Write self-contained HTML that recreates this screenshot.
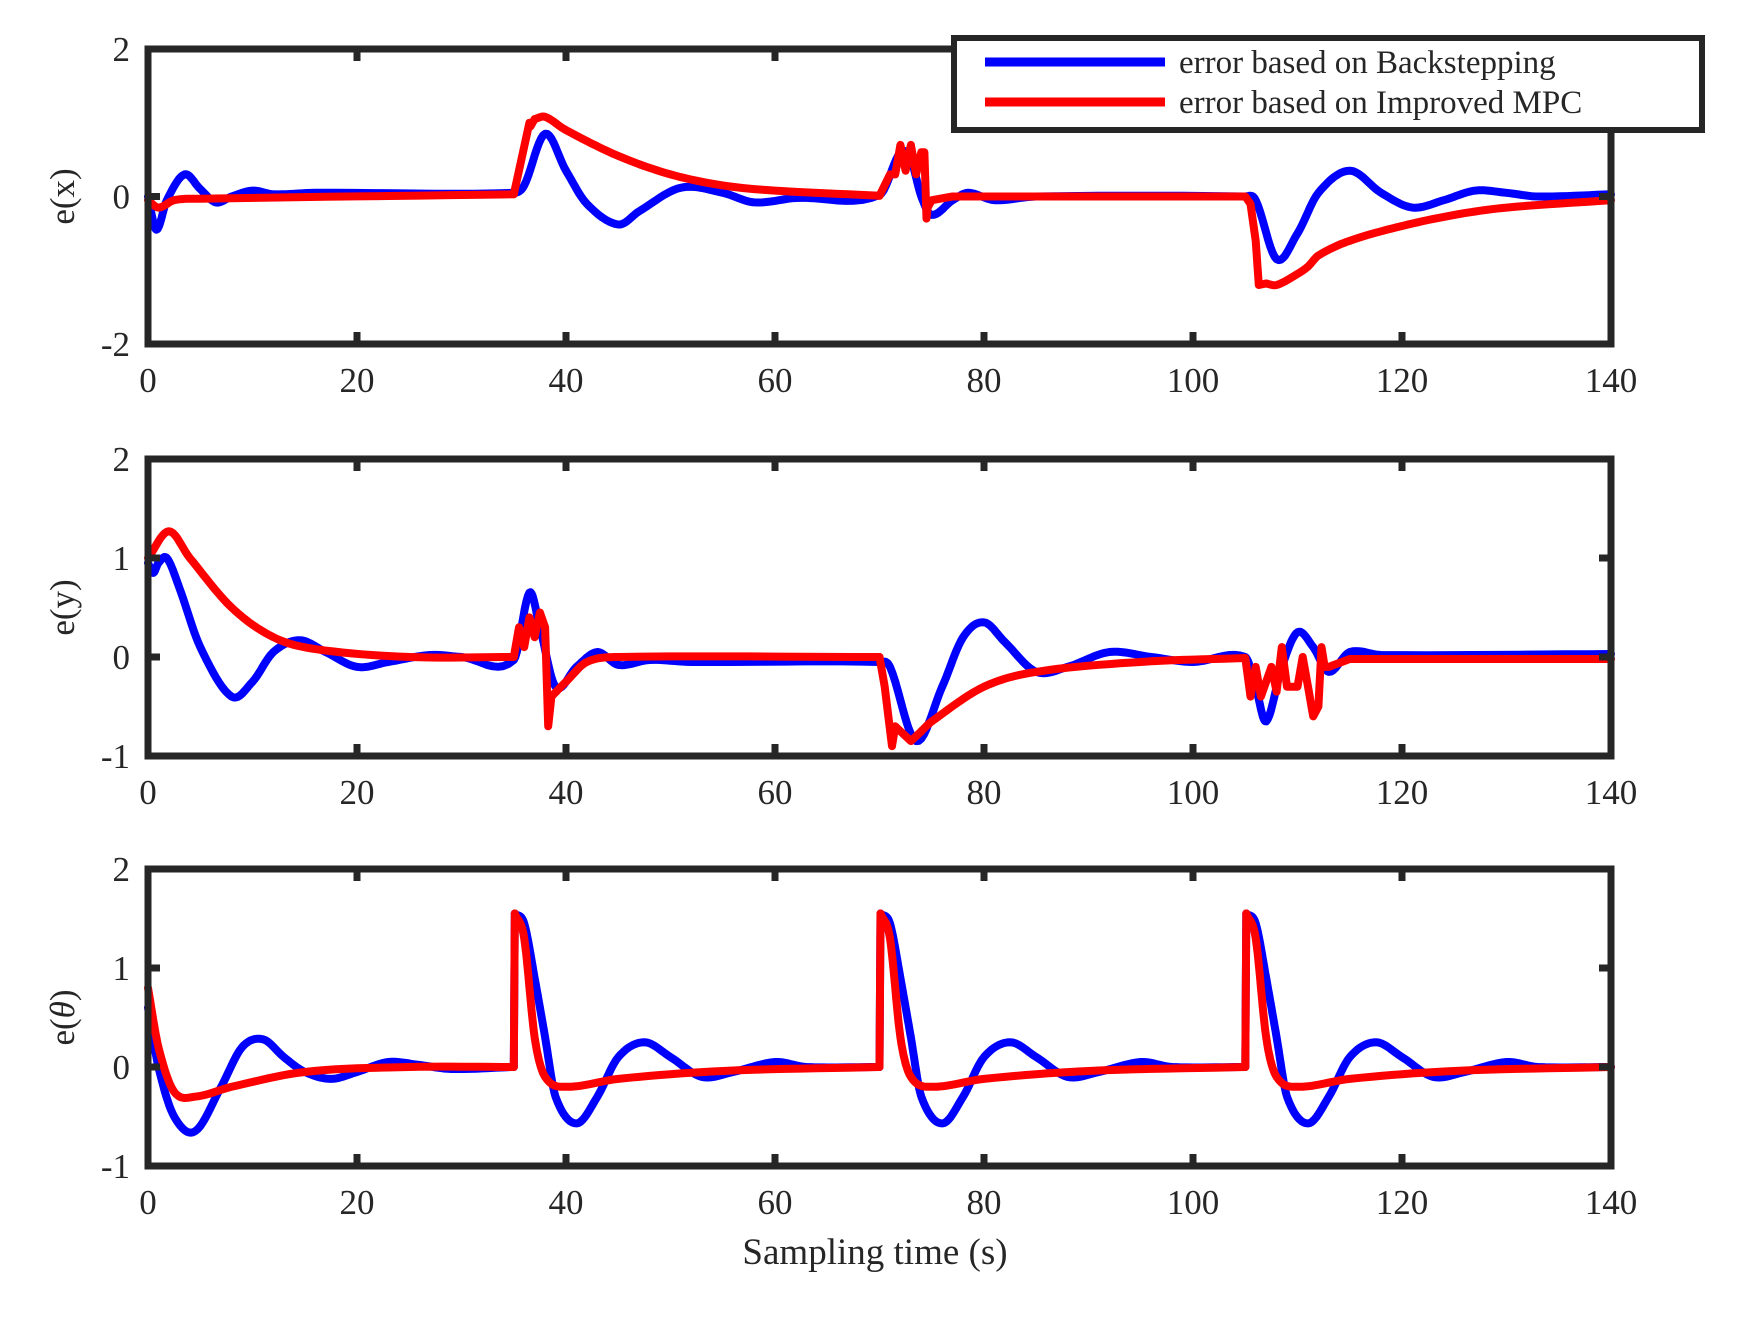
<!DOCTYPE html>
<html><head><meta charset="utf-8"><style>
body{margin:0;background:#fff;}
svg text{font-family:"Liberation Serif",serif;fill:#262626;}
</style></head><body>
<svg id="s" width="1743" height="1314" xmlns="http://www.w3.org/2000/svg"></svg>
<script>
const S=document.getElementById('s');
const X0=148,X1=1611;
const xs=t=>X0+(X1-X0)*t/140;
function el(n,a,txt){const e=document.createElementNS('http://www.w3.org/2000/svg',n);for(const k in a)e.setAttribute(k,a[k]);if(txt!==undefined)e.textContent=txt;S.appendChild(e);return e;}
function path(pts,ys){return pts.map((p,i)=>(i?'L':'M')+xs(p[0]).toFixed(1)+' '+ys(p[1]).toFixed(1)).join('');}
// hermite in x
function smooth(pts){const n=pts.length;const m=[];for(let i=0;i<n;i++){const a=pts[Math.max(0,i-1)],b=pts[Math.min(n-1,i+1)];m.push((b[1]-a[1])/(b[0]-a[0]));}
 const out=[];for(let i=0;i<n-1;i++){const x0=pts[i][0],x1=pts[i+1][0],y0=pts[i][1],y1=pts[i+1][1],h=x1-x0;for(let k=0;k<10;k++){const t=k/10,t2=t*t,t3=t2*t;const y=(2*t3-3*t2+1)*y0+(t3-2*t2+t)*h*m[i]+(-2*t3+3*t2)*y1+(t3-t2)*h*m[i+1];out.push([x0+h*t,y]);}}out.push(pts[n-1]);return out;}
function panel(top,bot,ymin,ymax,yt,label,series){
  const ys=v=>bot-(v-ymin)/(ymax-ymin)*(bot-top);
  series.forEach(s=>{s.segs.forEach(seg=>{el('path',{d:path(seg.lin?seg.p:smooth(seg.p),ys),fill:'none',stroke:s.c,'stroke-width':8,'stroke-linejoin':'round','stroke-linecap':'round'});});});
  el('rect',{x:X0,y:top,width:X1-X0,height:bot-top,fill:'none',stroke:'#262626','stroke-width':7});
  for(let t=0;t<=140;t+=20){const x=xs(t);el('line',{x1:x,y1:top,x2:x,y2:top+12,stroke:'#262626','stroke-width':7});el('line',{x1:x,y1:bot,x2:x,y2:bot-12,stroke:'#262626','stroke-width':7});
    el('text',{x:x,y:bot+48,'font-size':35,'text-anchor':'middle'},String(t));}
  yt.forEach(v=>{const y=ys(v);el('line',{x1:X0,y1:y,x2:X0+12,y2:y,stroke:'#262626','stroke-width':7});el('line',{x1:X1,y1:y,x2:X1-12,y2:y,stroke:'#262626','stroke-width':7});
    el('text',{x:130,y:y+12,'font-size':35,'text-anchor':'end'},String(v));});
  const cy=(top+bot)/2;
  const t=el('text',{x:0,y:0,'font-size':35,'text-anchor':'middle',transform:`translate(74 ${cy}) rotate(-90)`});
  t.innerHTML=label;
}
const B='#0000ff',R='#ff0000';
function rep(base,shift){return base.map(p=>[p[0]+shift,p[1]]);}
panel(49,344,-2,2,[-2,0,2],'e(x)',[
 {c:B,segs:[{p:[[0,0],[0.8,-0.45],[1.8,-0.05],[3.5,0.3],[5,0.1],[6.5,-0.08],[8,0],[10,0.08],[12,0.03],[16,0.05],[35,0.05],[36,0.15],[38,0.85],[40,0.35],[42,-0.1],[45,-0.38],[47,-0.2],[51,0.12],[55,0.05],[58,-0.08],[62,-0.02],[70,0.02],[72,0.6],[73,0.5],[74,0],[75,-0.25],[77,-0.05],[78.5,0.05],[81,-0.05],[85,0],[105,0],[106,-0.05],[108,-0.85],[110,-0.5],[112,0.05],[115,0.35],[118,0.05],[121,-0.15],[124,-0.05],[127,0.08],[130,0.05],[133,0],[140,0.03]]}]},
 {c:R,segs:[{p:[[0,-0.05],[1,-0.15],[2.5,-0.05],[5,-0.03],[35,0.03]]},{lin:1,p:[[35,0.03],[36.5,1.0],[36.6,0.95],[37,1.05]]},{p:[[37,1.05],[38,1.08],[40,0.9],[45,0.55],[50,0.3],[55,0.15],[60,0.08],[70,0.01]]},
  {lin:1,p:[[70,0.01],[71,0.3],[71.5,0.3],[72,0.7],[72.5,0.35],[73,0.7],[73.5,0.3],[74,0.6],[74.3,0.6],[74.5,-0.3],[74.6,-0.15],[75,-0.05],[77,0],[105,0],[105.5,-0.1],[106,-0.6],[106.3,-1.2],[107,-1.18]]},
  {p:[[107,-1.18],[108,-1.2],[110,-1.05],[111,-0.95],[112,-0.8],[115,-0.6],[120,-0.4],[125,-0.25],[130,-0.15],[140,-0.05]]}]}
]);
panel(459,756,-1,2,[-1,0,1,2],'e(y)',[
 {c:B,segs:[{p:[[0,0.95],[0.5,0.85],[1,0.95],[1.8,1.0],[3,0.7],[5,0.1],[8,-0.4],[10,-0.25],[12,0.05],[14.5,0.17],[17,0.05],[20,-0.1],[23,-0.05],[27,0.02],[30,0.0],[35,-0.03],[36.5,0.65],[37.5,0.3],[39,-0.3],[41,-0.1],[43,0.05],[45,-0.08],[48,-0.03],[52,-0.05],[70,-0.05],[71,-0.1],[73.5,-0.85],[76,-0.3],[78,0.2],[80,0.35],[82,0.15],[85,-0.15],[88,-0.1],[92,0.05],[96,0],[100,-0.05],[105,0.0],[106,-0.3],[107,-0.65],[108.5,-0.1],[110,0.25],[111.5,0.1],[113,-0.15],[115,0.05],[118,0.02],[140,0.03]]}]},
 {c:R,segs:[{p:[[0,1.0],[2,1.27],[4,1.0],[8,0.5],[12,0.2],[16,0.08],[25,0.0],[35,0.0]]},
  {lin:1,p:[[35,0],[35.5,0.3],[36,0.1],[36.5,0.4],[37,0.2],[37.5,0.45],[38,0.3],[38.3,-0.7],[38.6,-0.4]]},{p:[[38.6,-0.4],[40,-0.25],[42,-0.05],[45,0],[70,0]]},
  {lin:1,p:[[70,0],[70.5,-0.3],[71.2,-0.9],[71.5,-0.7],[72,-0.75],[73,-0.85],[74,-0.75]]},{p:[[74,-0.75],[75,-0.65],[80,-0.3],[85,-0.15],[95,-0.05],[105,-0.01]]},
  {lin:1,p:[[105,-0.01],[105.5,-0.4],[106,-0.1],[106.5,-0.4],[107.5,-0.1],[108,-0.35],[108.5,0.1],[109,-0.3],[110,-0.3],[110.5,0],[111,-0.3],[111.5,-0.6],[112,-0.5],[112.3,0.1],[112.6,-0.1],[113,-0.1],[115,-0.02],[140,-0.02]]}]}
]);
const bTail=[[35.1,1.55],[36,1.45],[37,0.9],[38,0.3],[39,-0.3],[41,-0.57],[43,-0.3],[45,0.1],[47.5,0.25],[50,0.1],[53,-0.1],[56,-0.05],[60,0.05],[63,0],[70,0]];
const rTail=[[35.1,1.55],[36,1.3],[37,0.3],[38,-0.1],[40,-0.2],[45,-0.12],[55,-0.04],[70,0]];
panel(869,1166,-1,2,[-1,0,1,2],'e(<tspan font-style="italic">θ</tspan>)',[
 {c:B,segs:[{p:[[0,0.6],[1,0.0],[2.5,-0.5],[4.5,-0.65],[7,-0.2],[9,0.2],[11,0.28],[13,0.1],[15,-0.05],[17.5,-0.12],[20,-0.05],[23,0.05],[26,0.02],[29,-0.02],[35,0]]},
  {lin:1,p:[[35,0],[35.1,1.55]]},{p:bTail},{lin:1,p:[[70,0],[70.1,1.55]]},{p:rep(bTail,35)},{lin:1,p:[[105,0],[105.1,1.55]]},{p:rep(bTail,70)}]},
 {c:R,segs:[{p:[[0,0.8],[1,0.2],[2.5,-0.25],[4.5,-0.3],[8,-0.2],[15,-0.05],[25,0],[35,0]]},
  {lin:1,p:[[35,0],[35.1,1.55]]},{p:rTail},{lin:1,p:[[70,0],[70.1,1.55]]},{p:rep(rTail,35)},{lin:1,p:[[105,0],[105.1,1.55]]},{p:rep(rTail,70)}]}
]);
el('text',{x:875,y:1264,'font-size':37,'text-anchor':'middle'},'Sampling time (s)');
el('rect',{x:954,y:38,width:748,height:92,fill:'#fff',stroke:'#262626','stroke-width':6});
el('line',{x1:985,y1:62,x2:1165,y2:62,stroke:B,'stroke-width':9});
el('line',{x1:985,y1:102,x2:1165,y2:102,stroke:R,'stroke-width':9});
el('text',{x:1179,y:73,'font-size':33},'error based on Backstepping');
el('text',{x:1179,y:113,'font-size':33},'error based on Improved MPC');
</script>
</body></html>
